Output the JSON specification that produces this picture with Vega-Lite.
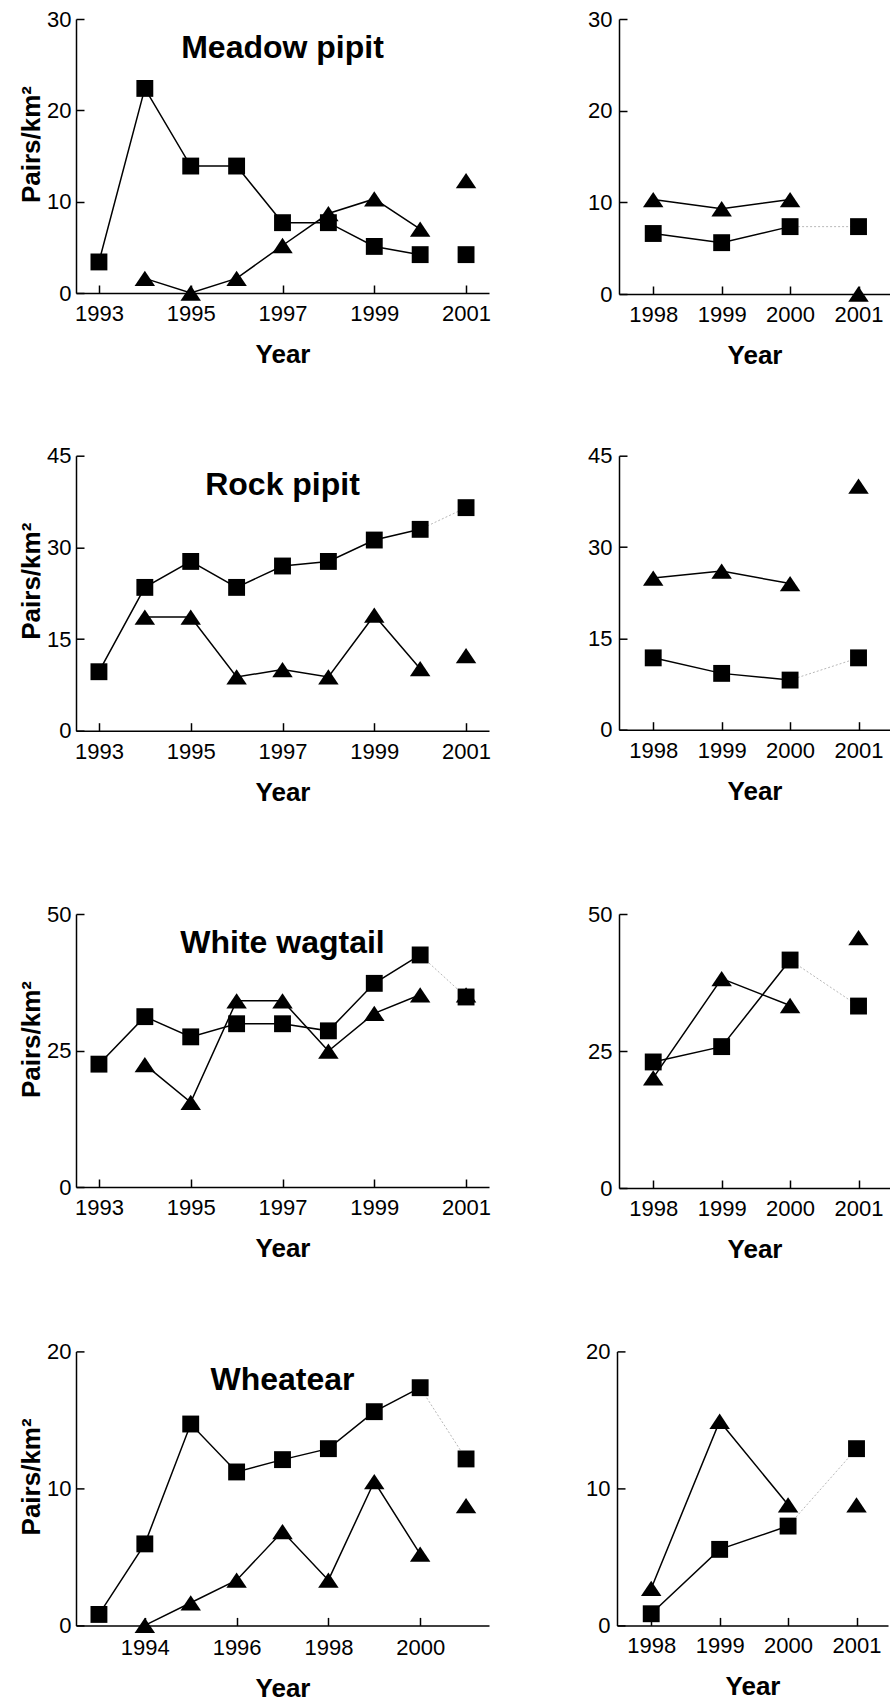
{
  "$schema": "https://vega.github.io/schema/vega-lite/v6.json",
  "padding": {"left": 18, "top": 8, "right": 0, "bottom": 0},
  "background": "white",
  "data": {"values": [
    {"species": "Meadow pipit", "plot": "long", "series": "square", "year": 1993, "value": 3.4},
    {"species": "Meadow pipit", "plot": "long", "series": "square", "year": 1994, "value": 22.4},
    {"species": "Meadow pipit", "plot": "long", "series": "square", "year": 1995, "value": 13.9},
    {"species": "Meadow pipit", "plot": "long", "series": "square", "year": 1996, "value": 13.9},
    {"species": "Meadow pipit", "plot": "long", "series": "square", "year": 1997, "value": 7.7},
    {"species": "Meadow pipit", "plot": "long", "series": "square", "year": 1998, "value": 7.7},
    {"species": "Meadow pipit", "plot": "long", "series": "square", "year": 1999, "value": 5.1},
    {"species": "Meadow pipit", "plot": "long", "series": "square", "year": 2000, "value": 4.2},
    {"species": "Meadow pipit", "plot": "long", "series": "square", "year": 2001, "value": 4.2},
    {"species": "Meadow pipit", "plot": "long", "series": "triangle", "year": 1994, "value": 1.6},
    {"species": "Meadow pipit", "plot": "long", "series": "triangle", "year": 1995, "value": 0},
    {"species": "Meadow pipit", "plot": "long", "series": "triangle", "year": 1996, "value": 1.6},
    {"species": "Meadow pipit", "plot": "long", "series": "triangle", "year": 1997, "value": 5.2},
    {"species": "Meadow pipit", "plot": "long", "series": "triangle", "year": 1998, "value": 8.7},
    {"species": "Meadow pipit", "plot": "long", "series": "triangle", "year": 1999, "value": 10.3},
    {"species": "Meadow pipit", "plot": "long", "series": "triangle", "year": 2000, "value": 7.0},
    {"species": "Meadow pipit", "plot": "long", "series": "triangle", "year": 2001, "value": 12.3},
    {"species": "Meadow pipit", "plot": "short", "series": "square", "year": 1998, "value": 6.6},
    {"species": "Meadow pipit", "plot": "short", "series": "square", "year": 1999, "value": 5.6},
    {"species": "Meadow pipit", "plot": "short", "series": "square", "year": 2000, "value": 7.35},
    {"species": "Meadow pipit", "plot": "short", "series": "square", "year": 2001, "value": 7.35},
    {"species": "Meadow pipit", "plot": "short", "series": "triangle", "year": 1998, "value": 10.3},
    {"species": "Meadow pipit", "plot": "short", "series": "triangle", "year": 1999, "value": 9.3},
    {"species": "Meadow pipit", "plot": "short", "series": "triangle", "year": 2000, "value": 10.3},
    {"species": "Meadow pipit", "plot": "short", "series": "triangle", "year": 2001, "value": 0},
    {"species": "Rock pipit", "plot": "long", "series": "square", "year": 1993, "value": 9.65},
    {"species": "Rock pipit", "plot": "long", "series": "square", "year": 1994, "value": 23.45},
    {"species": "Rock pipit", "plot": "long", "series": "square", "year": 1995, "value": 27.7},
    {"species": "Rock pipit", "plot": "long", "series": "square", "year": 1996, "value": 23.45},
    {"species": "Rock pipit", "plot": "long", "series": "square", "year": 1997, "value": 26.95},
    {"species": "Rock pipit", "plot": "long", "series": "square", "year": 1998, "value": 27.7},
    {"species": "Rock pipit", "plot": "long", "series": "square", "year": 1999, "value": 31.2},
    {"species": "Rock pipit", "plot": "long", "series": "square", "year": 2000, "value": 32.95},
    {"species": "Rock pipit", "plot": "long", "series": "square", "year": 2001, "value": 36.5},
    {"species": "Rock pipit", "plot": "long", "series": "triangle", "year": 1994, "value": 18.6},
    {"species": "Rock pipit", "plot": "long", "series": "triangle", "year": 1995, "value": 18.6},
    {"species": "Rock pipit", "plot": "long", "series": "triangle", "year": 1996, "value": 8.8},
    {"species": "Rock pipit", "plot": "long", "series": "triangle", "year": 1997, "value": 10.0},
    {"species": "Rock pipit", "plot": "long", "series": "triangle", "year": 1998, "value": 8.8},
    {"species": "Rock pipit", "plot": "long", "series": "triangle", "year": 1999, "value": 18.9},
    {"species": "Rock pipit", "plot": "long", "series": "triangle", "year": 2000, "value": 10.15},
    {"species": "Rock pipit", "plot": "long", "series": "triangle", "year": 2001, "value": 12.3},
    {"species": "Rock pipit", "plot": "short", "series": "square", "year": 1998, "value": 11.8},
    {"species": "Rock pipit", "plot": "short", "series": "square", "year": 1999, "value": 9.25},
    {"species": "Rock pipit", "plot": "short", "series": "square", "year": 2000, "value": 8.15},
    {"species": "Rock pipit", "plot": "short", "series": "square", "year": 2001, "value": 11.8},
    {"species": "Rock pipit", "plot": "short", "series": "triangle", "year": 1998, "value": 24.9},
    {"species": "Rock pipit", "plot": "short", "series": "triangle", "year": 1999, "value": 26.05},
    {"species": "Rock pipit", "plot": "short", "series": "triangle", "year": 2000, "value": 24.0},
    {"species": "Rock pipit", "plot": "short", "series": "triangle", "year": 2001, "value": 40.0},
    {"species": "White wagtail", "plot": "long", "series": "square", "year": 1993, "value": 22.5},
    {"species": "White wagtail", "plot": "long", "series": "square", "year": 1994, "value": 31.2},
    {"species": "White wagtail", "plot": "long", "series": "square", "year": 1995, "value": 27.5},
    {"species": "White wagtail", "plot": "long", "series": "square", "year": 1996, "value": 29.9},
    {"species": "White wagtail", "plot": "long", "series": "square", "year": 1997, "value": 29.9},
    {"species": "White wagtail", "plot": "long", "series": "square", "year": 1998, "value": 28.6},
    {"species": "White wagtail", "plot": "long", "series": "square", "year": 1999, "value": 37.3},
    {"species": "White wagtail", "plot": "long", "series": "square", "year": 2000, "value": 42.5},
    {"species": "White wagtail", "plot": "long", "series": "square", "year": 2001, "value": 34.8},
    {"species": "White wagtail", "plot": "long", "series": "triangle", "year": 1994, "value": 22.4},
    {"species": "White wagtail", "plot": "long", "series": "triangle", "year": 1995, "value": 15.5},
    {"species": "White wagtail", "plot": "long", "series": "triangle", "year": 1996, "value": 34.1},
    {"species": "White wagtail", "plot": "long", "series": "triangle", "year": 1997, "value": 34.1},
    {"species": "White wagtail", "plot": "long", "series": "triangle", "year": 1998, "value": 24.9},
    {"species": "White wagtail", "plot": "long", "series": "triangle", "year": 1999, "value": 31.8},
    {"species": "White wagtail", "plot": "long", "series": "triangle", "year": 2000, "value": 35.2},
    {"species": "White wagtail", "plot": "long", "series": "triangle", "year": 2001, "value": 35.2},
    {"species": "White wagtail", "plot": "short", "series": "square", "year": 1998, "value": 23.0},
    {"species": "White wagtail", "plot": "short", "series": "square", "year": 1999, "value": 25.8},
    {"species": "White wagtail", "plot": "short", "series": "square", "year": 2000, "value": 41.6},
    {"species": "White wagtail", "plot": "short", "series": "square", "year": 2001, "value": 33.2},
    {"species": "White wagtail", "plot": "short", "series": "triangle", "year": 1998, "value": 20.1},
    {"species": "White wagtail", "plot": "short", "series": "triangle", "year": 1999, "value": 38.2},
    {"species": "White wagtail", "plot": "short", "series": "triangle", "year": 2000, "value": 33.3},
    {"species": "White wagtail", "plot": "short", "series": "triangle", "year": 2001, "value": 45.7},
    {"species": "Wheatear", "plot": "long", "series": "square", "year": 1993, "value": 0.8},
    {"species": "Wheatear", "plot": "long", "series": "square", "year": 1994, "value": 5.95},
    {"species": "Wheatear", "plot": "long", "series": "square", "year": 1995, "value": 14.7},
    {"species": "Wheatear", "plot": "long", "series": "square", "year": 1996, "value": 11.2},
    {"species": "Wheatear", "plot": "long", "series": "square", "year": 1997, "value": 12.1},
    {"species": "Wheatear", "plot": "long", "series": "square", "year": 1998, "value": 12.9},
    {"species": "Wheatear", "plot": "long", "series": "square", "year": 1999, "value": 15.6},
    {"species": "Wheatear", "plot": "long", "series": "square", "year": 2000, "value": 17.35},
    {"species": "Wheatear", "plot": "long", "series": "square", "year": 2001, "value": 12.15},
    {"species": "Wheatear", "plot": "long", "series": "triangle", "year": 1994, "value": 0},
    {"species": "Wheatear", "plot": "long", "series": "triangle", "year": 1995, "value": 1.65},
    {"species": "Wheatear", "plot": "long", "series": "triangle", "year": 1996, "value": 3.3},
    {"species": "Wheatear", "plot": "long", "series": "triangle", "year": 1997, "value": 6.85},
    {"species": "Wheatear", "plot": "long", "series": "triangle", "year": 1998, "value": 3.3},
    {"species": "Wheatear", "plot": "long", "series": "triangle", "year": 1999, "value": 10.5},
    {"species": "Wheatear", "plot": "long", "series": "triangle", "year": 2000, "value": 5.2},
    {"species": "Wheatear", "plot": "long", "series": "triangle", "year": 2001, "value": 8.75},
    {"species": "Wheatear", "plot": "short", "series": "square", "year": 1998, "value": 0.85},
    {"species": "Wheatear", "plot": "short", "series": "square", "year": 1999, "value": 5.55},
    {"species": "Wheatear", "plot": "short", "series": "square", "year": 2000, "value": 7.25},
    {"species": "Wheatear", "plot": "short", "series": "square", "year": 2001, "value": 12.9},
    {"species": "Wheatear", "plot": "short", "series": "triangle", "year": 1998, "value": 2.7},
    {"species": "Wheatear", "plot": "short", "series": "triangle", "year": 1999, "value": 14.9},
    {"species": "Wheatear", "plot": "short", "series": "triangle", "year": 2000, "value": 8.8},
    {"species": "Wheatear", "plot": "short", "series": "triangle", "year": 2001, "value": 8.8}
  ]},
  "spacing": 97,
  "vconcat": [
    {
      "spacing": 75.7,
      "vconcat": [
        {
          "spacing": 96,
          "hconcat": [
            {
              "width": 413, "height": 274,
              "title": {"text": "Meadow pipit"},
              "transform": [{"filter": "datum.species === 'Meadow pipit' && datum.plot === 'long'"}],
              "encoding": {
                "x": {"field": "year", "type": "quantitative", "scale": {"domain": [1992.5, 2001.5], "nice": false, "zero": false}, "axis": {"values": [1993, 1995, 1997, 1999, 2001], "format": "d", "title": "Year"}},
                "y": {"field": "value", "type": "quantitative", "scale": {"domain": [0, 30], "nice": false}, "axis": {"values": [0, 10, 20, 30], "title": "Pairs/km²", "titleY": 125}}
              },
              "layer": [
                {"transform": [{"filter": "datum.year <= 2000"}], "mark": {"type": "line", "color": "black", "strokeWidth": 1.5}, "encoding": {"detail": {"field": "series"}}},
                {"mark": {"type": "point", "filled": true, "opacity": 1, "color": "black", "size": 285}, "encoding": {"shape": {"field": "series", "type": "nominal", "scale": {"domain": ["square", "triangle"], "range": ["square", "M0,-0.906L1.214,0.906L-1.214,0.906Z"]}, "legend": null}, "order": {"field": "series", "sort": "descending"}}}
              ]
            },
            {
              "width": 271, "height": 275,
              "transform": [{"filter": "datum.species === 'Meadow pipit' && datum.plot === 'short'"}],
              "encoding": {
                "x": {"field": "year", "type": "quantitative", "scale": {"domain": [1997.5, 2001.46], "nice": false, "zero": false}, "axis": {"values": [1998, 1999, 2000, 2001], "format": "d", "title": "Year"}},
                "y": {"field": "value", "type": "quantitative", "scale": {"domain": [0, 30], "nice": false}, "axis": {"values": [0, 10, 20, 30], "title": null, "labelPadding": 15}}
              },
              "layer": [
                {"transform": [{"filter": "datum.year <= 2000"}], "mark": {"type": "line", "color": "black", "strokeWidth": 1.5}, "encoding": {"detail": {"field": "series"}}},
                {"transform": [{"filter": "datum.series === 'square' && datum.year >= 2000"}], "mark": {"type": "line", "color": "#b8b8b8", "strokeWidth": 1, "strokeDash": [2, 2]}, "encoding": {}},
                {"mark": {"type": "point", "filled": true, "opacity": 1, "color": "black", "size": 285}, "encoding": {"shape": {"field": "series", "type": "nominal", "scale": {"domain": ["square", "triangle"], "range": ["square", "M0,-0.906L1.214,0.906L-1.214,0.906Z"]}, "legend": null}, "order": {"field": "series", "sort": "descending"}}}
              ]
            }
          ]
        },
        {
          "spacing": 96,
          "hconcat": [
            {
              "width": 413, "height": 275,
              "title": {"text": "Rock pipit"},
              "transform": [{"filter": "datum.species === 'Rock pipit' && datum.plot === 'long'"}],
              "encoding": {
                "x": {"field": "year", "type": "quantitative", "scale": {"domain": [1992.5, 2001.5], "nice": false, "zero": false}, "axis": {"values": [1993, 1995, 1997, 1999, 2001], "format": "d", "title": "Year"}},
                "y": {"field": "value", "type": "quantitative", "scale": {"domain": [0, 45], "nice": false}, "axis": {"values": [0, 15, 30, 45], "title": "Pairs/km²", "titleY": 125}}
              },
              "layer": [
                {"transform": [{"filter": "datum.year <= 2000"}], "mark": {"type": "line", "color": "black", "strokeWidth": 1.5}, "encoding": {"detail": {"field": "series"}}},
                {"transform": [{"filter": "datum.series === 'square' && datum.year >= 2000"}], "mark": {"type": "line", "color": "#b8b8b8", "strokeWidth": 1, "strokeDash": [2, 2]}, "encoding": {}},
                {"mark": {"type": "point", "filled": true, "opacity": 1, "color": "black", "size": 285}, "encoding": {"shape": {"field": "series", "type": "nominal", "scale": {"domain": ["square", "triangle"], "range": ["square", "M0,-0.906L1.214,0.906L-1.214,0.906Z"]}, "legend": null}, "order": {"field": "series", "sort": "descending"}}}
              ]
            },
            {
              "width": 271, "height": 274,
              "transform": [{"filter": "datum.species === 'Rock pipit' && datum.plot === 'short'"}],
              "encoding": {
                "x": {"field": "year", "type": "quantitative", "scale": {"domain": [1997.5, 2001.46], "nice": false, "zero": false}, "axis": {"values": [1998, 1999, 2000, 2001], "format": "d", "title": "Year"}},
                "y": {"field": "value", "type": "quantitative", "scale": {"domain": [0, 45], "nice": false}, "axis": {"values": [0, 15, 30, 45], "title": null, "labelPadding": 15}}
              },
              "layer": [
                {"transform": [{"filter": "datum.year <= 2000"}], "mark": {"type": "line", "color": "black", "strokeWidth": 1.5}, "encoding": {"detail": {"field": "series"}}},
                {"transform": [{"filter": "datum.series === 'square' && datum.year >= 2000"}], "mark": {"type": "line", "color": "#b8b8b8", "strokeWidth": 1, "strokeDash": [2, 2]}, "encoding": {}},
                {"mark": {"type": "point", "filled": true, "opacity": 1, "color": "black", "size": 285}, "encoding": {"shape": {"field": "series", "type": "nominal", "scale": {"domain": ["square", "triangle"], "range": ["square", "M0,-0.906L1.214,0.906L-1.214,0.906Z"]}, "legend": null}, "order": {"field": "series", "sort": "descending"}}}
              ]
            }
          ]
        }
      ]
    },
    {
      "spacing": 77.4,
      "vconcat": [
        {
          "spacing": 96,
          "hconcat": [
            {
              "width": 413, "height": 273,
              "title": {"text": "White wagtail"},
              "transform": [{"filter": "datum.species === 'White wagtail' && datum.plot === 'long'"}],
              "encoding": {
                "x": {"field": "year", "type": "quantitative", "scale": {"domain": [1992.5, 2001.5], "nice": false, "zero": false}, "axis": {"values": [1993, 1995, 1997, 1999, 2001], "format": "d", "title": "Year"}},
                "y": {"field": "value", "type": "quantitative", "scale": {"domain": [0, 50], "nice": false}, "axis": {"values": [0, 25, 50], "title": "Pairs/km²", "titleY": 125}}
              },
              "layer": [
                {"transform": [{"filter": "datum.year <= 2000"}], "mark": {"type": "line", "color": "black", "strokeWidth": 1.5}, "encoding": {"detail": {"field": "series"}}},
                {"transform": [{"filter": "datum.series === 'square' && datum.year >= 2000"}], "mark": {"type": "line", "color": "#b8b8b8", "strokeWidth": 1, "strokeDash": [2, 2]}, "encoding": {}},
                {"mark": {"type": "point", "filled": true, "opacity": 1, "color": "black", "size": 285}, "encoding": {"shape": {"field": "series", "type": "nominal", "scale": {"domain": ["square", "triangle"], "range": ["square", "M0,-0.906L1.214,0.906L-1.214,0.906Z"]}, "legend": null}, "order": {"field": "series", "sort": "descending"}}}
              ]
            },
            {
              "width": 271, "height": 274,
              "transform": [{"filter": "datum.species === 'White wagtail' && datum.plot === 'short'"}],
              "encoding": {
                "x": {"field": "year", "type": "quantitative", "scale": {"domain": [1997.5, 2001.46], "nice": false, "zero": false}, "axis": {"values": [1998, 1999, 2000, 2001], "format": "d", "title": "Year"}},
                "y": {"field": "value", "type": "quantitative", "scale": {"domain": [0, 50], "nice": false}, "axis": {"values": [0, 25, 50], "title": null, "labelPadding": 15}}
              },
              "layer": [
                {"transform": [{"filter": "datum.year <= 2000"}], "mark": {"type": "line", "color": "black", "strokeWidth": 1.5}, "encoding": {"detail": {"field": "series"}}},
                {"transform": [{"filter": "datum.series === 'square' && datum.year >= 2000"}], "mark": {"type": "line", "color": "#b8b8b8", "strokeWidth": 1, "strokeDash": [2, 2]}, "encoding": {}},
                {"mark": {"type": "point", "filled": true, "opacity": 1, "color": "black", "size": 285}, "encoding": {"shape": {"field": "series", "type": "nominal", "scale": {"domain": ["square", "triangle"], "range": ["square", "M0,-0.906L1.214,0.906L-1.214,0.906Z"]}, "legend": null}, "order": {"field": "series", "sort": "descending"}}}
              ]
            }
          ]
        },
        {
          "spacing": 96,
          "hconcat": [
            {
              "width": 413, "height": 274,
              "title": {"text": "Wheatear"},
              "transform": [{"filter": "datum.species === 'Wheatear' && datum.plot === 'long'"}],
              "encoding": {
                "x": {"field": "year", "type": "quantitative", "scale": {"domain": [1992.5, 2001.5], "nice": false, "zero": false}, "axis": {"values": [1994, 1996, 1998, 2000], "format": "d", "title": "Year", "labelPadding": 20.5}},
                "y": {"field": "value", "type": "quantitative", "scale": {"domain": [0, 20], "nice": false}, "axis": {"values": [0, 10, 20], "title": "Pairs/km²", "titleY": 125}}
              },
              "layer": [
                {"transform": [{"filter": "datum.year <= 2000"}], "mark": {"type": "line", "color": "black", "strokeWidth": 1.5}, "encoding": {"detail": {"field": "series"}}},
                {"transform": [{"filter": "datum.series === 'square' && datum.year >= 2000"}], "mark": {"type": "line", "color": "#b8b8b8", "strokeWidth": 1, "strokeDash": [2, 2]}, "encoding": {}},
                {"mark": {"type": "point", "filled": true, "opacity": 1, "color": "black", "size": 285}, "encoding": {"shape": {"field": "series", "type": "nominal", "scale": {"domain": ["square", "triangle"], "range": ["square", "M0,-0.906L1.214,0.906L-1.214,0.906Z"]}, "legend": null}, "order": {"field": "series", "sort": "descending"}}}
              ]
            },
            {
              "width": 271, "height": 274,
              "transform": [{"filter": "datum.species === 'Wheatear' && datum.plot === 'short'"}],
              "encoding": {
                "x": {"field": "year", "type": "quantitative", "scale": {"domain": [1997.5, 2001.46], "nice": false, "zero": false}, "axis": {"values": [1998, 1999, 2000, 2001], "format": "d", "title": "Year"}},
                "y": {"field": "value", "type": "quantitative", "scale": {"domain": [0, 20], "nice": false}, "axis": {"values": [0, 10, 20], "title": null, "labelPadding": 15}}
              },
              "layer": [
                {"transform": [{"filter": "datum.year <= 2000"}], "mark": {"type": "line", "color": "black", "strokeWidth": 1.5}, "encoding": {"detail": {"field": "series"}}},
                {"transform": [{"filter": "datum.series === 'square' && datum.year >= 2000"}], "mark": {"type": "line", "color": "#b8b8b8", "strokeWidth": 1, "strokeDash": [2, 2]}, "encoding": {}},
                {"mark": {"type": "point", "filled": true, "opacity": 1, "color": "black", "size": 285}, "encoding": {"shape": {"field": "series", "type": "nominal", "scale": {"domain": ["square", "triangle"], "range": ["square", "M0,-0.906L1.214,0.906L-1.214,0.906Z"]}, "legend": null}, "order": {"field": "series", "sort": "descending"}}}
              ]
            }
          ]
        }
      ]
    }
  ],
  "config": {
    "view": {"stroke": null},
    "font": "Liberation Sans",
    "axis": {
      "grid": false,
      "domainColor": "black",
      "domainWidth": 1.5,
      "tickColor": "black",
      "tickWidth": 1.5,
      "tickSize": -8,
      "labelFont": "Liberation Sans",
      "labelFontSize": 22,
      "labelColor": "black",
      "labelFlush": false,
      "labelOverlap": false,
      "titleFont": "Liberation Sans",
      "titleFontSize": 26,
      "titleFontWeight": "bold",
      "titleColor": "black"
    },
    "axisX": {"labelPadding": 18.5, "titlePadding": 17},
    "axisY": {"labelPadding": 13, "titlePadding": 2},
    "title": {"font": "Liberation Sans", "fontSize": 32, "fontWeight": "bold", "color": "black", "frame": "group", "anchor": "middle", "baseline": "top", "offset": -57}
  }
}
